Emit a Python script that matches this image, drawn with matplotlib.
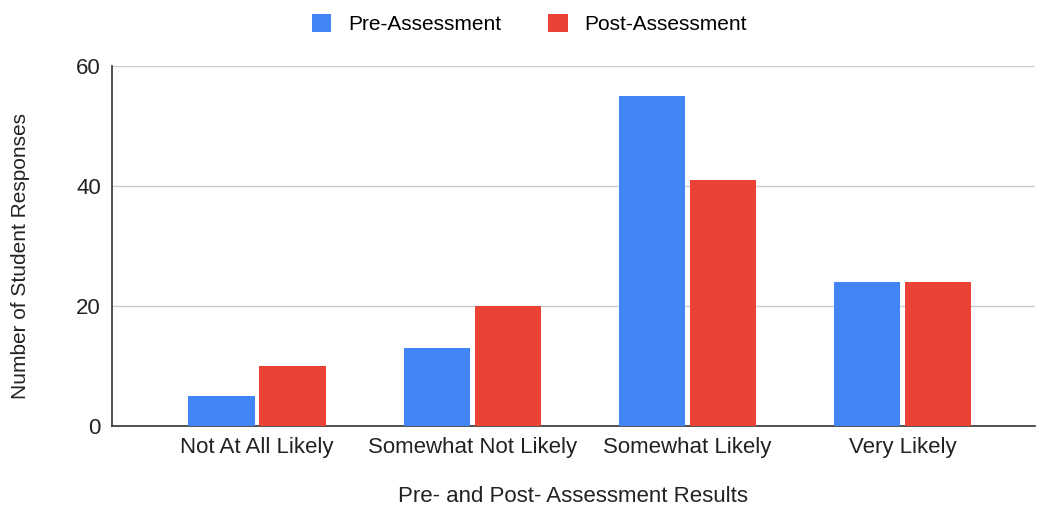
import numpy as np
from matplotlib import pyplot as plt

plt.rcParams['font.family'] = ['Liberation Sans', 'DejaVu Sans']

# Survey results
categories = ["Not At All Likely", "Somewhat Not Likely", "Somewhat Likely", "Very Likely"]
pre_scores = [5, 13, 55, 24]
post_scores = [10, 20, 41, 24]
y_ticks = [0, 20, 40, 60]

blue = "#4285F4"
red = "#EA4335"

fig = plt.figure(figsize=(10.38, 5.08), dpi=100)
ax = fig.add_axes([0.108, 0.161, 0.889, 0.709])

x = np.arange(len(categories))
w = 0.307
off = 0.165
ax.bar(x - off, pre_scores, w, color=blue, label="Pre-Assessment", zorder=3)
ax.bar(x + off, post_scores, w, color=red, label="Post-Assessment", zorder=3)

ax.set_xlim(-0.673, 3.613)
ax.set_ylim(0, 60)
ax.set_yticks(y_ticks)
ax.set_xticks(x)
ax.set_xticklabels(categories)
ax.tick_params(axis='both', length=0, labelsize=16, colors="#222222")
ax.tick_params(axis='y', pad=8)
ax.tick_params(axis='x', pad=8)

# Light horizontal gridlines, dark baseline
ax.grid(axis='y', color="#cccccc", linewidth=1, zorder=0)
for s in ["top", "right"]:
    ax.spines[s].set_visible(False)
ax.spines["left"].set_color("#333333")
ax.spines["bottom"].set_color("#333333")
ax.spines["left"].set_linewidth(1.2)
ax.spines["bottom"].set_linewidth(1.2)

ax.set_xlabel("Pre- and Post- Assessment Results", fontsize=16, color="#222222", labelpad=20)
ax.set_ylabel("Number of Student Responses", fontsize=15, color="#222222")
ax.yaxis.set_label_coords(-0.089, 0.472)

fig.legend(loc="upper center", bbox_to_anchor=(0.51, 1.01), ncol=2, frameon=False,
           fontsize=15, handlelength=0.95, handleheight=0.95, columnspacing=2.25,
           handletextpad=0.8)

fig.savefig("out.png", dpi=100)
